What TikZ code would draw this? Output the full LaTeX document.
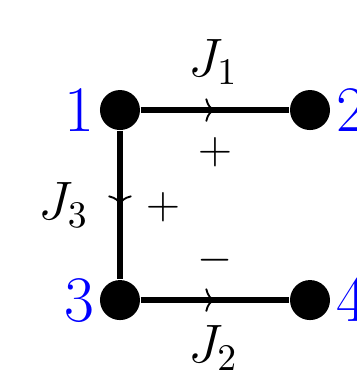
\documentclass[tikz,border=0pt]{standalone}
\usepackage{tikz}
\usetikzlibrary{
  arrows.meta,
  decorations.markings
}

\begin{document}
\begin{tikzpicture}[
  site/.style={
    circle, fill=black,
    inner sep=0pt,
    minimum size=0.374cm},
  sitelabel/.style={
    blue, font=\LARGE,
    inner sep=0pt},
  link/.style={
    line width=1.7pt,
    postaction={decorate},
    decoration={markings,
      mark=at position 0.5 with
        {\arrow[line width=0.5pt]{To[length=0.9mm, width=2.2mm]}}}},
  current/.style={font=\Large},
  sign/.style={font=\large}
]
\useasboundingbox (-1.122,1.029) rectangle (2.216,-2.431);

\node[site, label={[sitelabel, label distance=1pt]left:1}]
  (n1) at (0,0) {};
\node[site, label={[sitelabel, label distance=1.2pt]right:2}]
  (n2) at (1.777,0) {};
\node[site, label={[sitelabel, label distance=1pt]left:3}]
  (n3) at (0,-1.777) {};
\node[site, label={[sitelabel, label distance=1.2pt]right:4}]
  (n4) at (1.777,-1.777) {};

\foreach \a/\b in
  {n1/n2,n1/n3,n3/n4}{
  \draw[link] (\a) -- (\b);
}

\node[current] (j1) at (0.87,0.453) {$J_1$};
\node[current] (j2) at (0.87,-2.225) {$J_2$};
\node[current] (j3) at (-0.528,-0.888) {$J_3$};

\node[sign] (p1) at (0.888,-0.393) {$+$};
\node[sign] (p3) at (0.402,-0.907) {$+$};
\node[sign] (m2) at (0.888,-1.403) {$-$};
\end{tikzpicture}
\end{document}
